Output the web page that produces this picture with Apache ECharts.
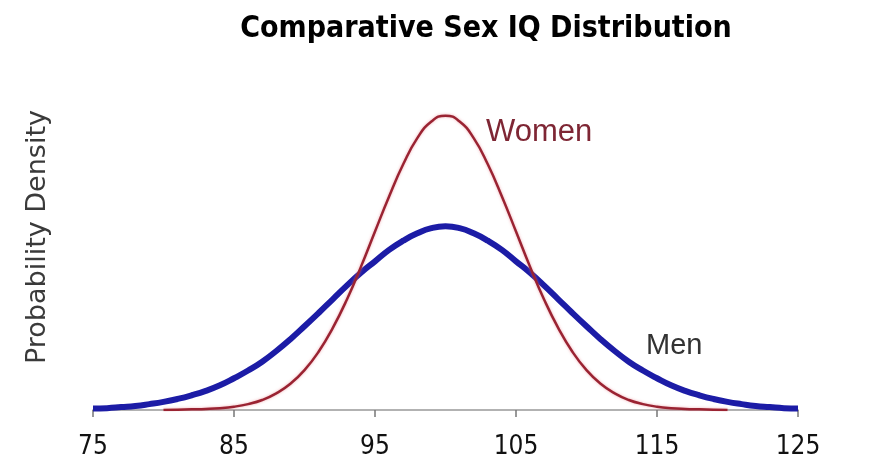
<!DOCTYPE html>
<html>
<head>
<meta charset="utf-8">
<script src="https://cdn.jsdelivr.net/npm/echarts@6/dist/echarts.min.js"></script>
<style>
html, body { margin: 0; padding: 0; background: #fff; }
#main { width: 879px; height: 461px; }
</style>
</head>
<body>
<div id="main"></div>
<script>
// IQ values (x) and probability density
var menIQ = [75, 76, 77, 78, 79, 80, 81, 82, 83, 84, 85, 86, 87, 88, 89, 90, 91, 92, 93, 94, 95, 96, 97, 98, 99, 100,
	101, 102, 103, 104, 105, 106, 107, 108, 109, 110, 111, 112, 113, 114, 115, 116, 117, 118, 119, 120, 121, 122, 123, 124, 125];
var menDensity = [0.0004, 0.0005, 0.0008, 0.0011, 0.0016, 0.0022, 0.0030, 0.0040, 0.0052, 0.0067, 0.0086, 0.0107, 0.0131, 0.0160, 0.0192, 0.0227, 0.0263, 0.0300, 0.0337, 0.0372, 0.0403, 0.0434, 0.0459, 0.0479, 0.0493, 0.0498,
	0.0493, 0.0479, 0.0459, 0.0434, 0.0403, 0.0372, 0.0337, 0.0300, 0.0263, 0.0227, 0.0192, 0.0160, 0.0131, 0.0107, 0.0086, 0.0067, 0.0052, 0.0040, 0.0030, 0.0022, 0.0016, 0.0011, 0.0008, 0.0005, 0.0004];

var womenIQ = [80, 81, 82, 83, 84, 85, 86, 87, 88, 89, 90, 91, 92, 93, 94, 95, 96, 97, 98, 99, 100,
	101, 102, 103, 104, 105, 106, 107, 108, 109, 110, 111, 112, 113, 114, 115, 116, 117, 118, 119, 120];
var womenDensity = [0.0000, 0.0001, 0.0002, 0.0003, 0.0005, 0.0009, 0.0016, 0.0027, 0.0045, 0.0071, 0.0108, 0.0158, 0.0222, 0.0299, 0.0388, 0.0484, 0.0579, 0.0666, 0.0737, 0.0782, 0.0798,
	0.0782, 0.0737, 0.0666, 0.0579, 0.0484, 0.0388, 0.0299, 0.0222, 0.0158, 0.0108, 0.0071, 0.0045, 0.0027, 0.0016, 0.0009, 0.0005, 0.0003, 0.0002, 0.0001, 0.0000];

var xTicks = [75, 85, 95, 105, 115, 125];

function pairs(xs, ys) {
	var res = [];
	for (var i = 0; i < xs.length; i++) {
		res.push([xs[i], ys[i]]);
	}
	return res;
}

var myChart = echarts.init(document.getElementById('main'), null, { renderer: 'canvas' });

var option = {
	backgroundColor: '#fff',
	animation: false,
	title: {
		text: 'Comparative Sex IQ Distribution',
		left: 481,
		top: 9,
		textAlign: 'center',
		textStyle: {
			fontFamily: 'DejaVu Sans Condensed',
			fontSize: 30,
			fontWeight: 'bold',
			color: '#000'
		}
	},
	grid: {
		left: 93,
		right: 81,
		top: 78,
		bottom: 51
	},
	xAxis: {
		type: 'value',
		min: 75,
		max: 125,
		interval: 10,
		axisLine: { show: true, lineStyle: { color: '#999', width: 1.5 } },
		axisTick: { show: true, length: 7, lineStyle: { color: '#777', width: 1.5 } },
		splitLine: { show: false },
		axisLabel: {
			margin: 24,
			fontFamily: 'DejaVu Sans Condensed',
			fontSize: 26,
			color: '#111',
			formatter: function (v) {
				return xTicks.indexOf(v) >= 0 ? String(v) : '';
			}
		}
	},
	yAxis: {
		type: 'value',
		min: 0,
		max: 0.09,
		axisLine: { show: false },
		axisTick: { show: false },
		axisLabel: { show: false },
		splitLine: { show: false }
	},
	series: [
		{
			name: 'Men',
			type: 'line',
			smooth: true,
			showSymbol: false,
			data: pairs(menIQ, menDensity),
			lineStyle: { color: '#1c1ca6', width: 6 },
			z: 2
		},
		{
			name: 'Women',
			type: 'line',
			smooth: true,
			showSymbol: false,
			data: pairs(womenIQ, womenDensity),
			lineStyle: { color: '#9a2332', width: 2.5, shadowColor: 'rgba(230,120,130,0.6)', shadowBlur: 3 },
			z: 3
		}
	],
	graphic: [
		{
			type: 'text',
			x: 38,
			y: 237,
			rotation: Math.PI / 2,
			style: {
				text: 'Probability Density',
				fontFamily: 'DejaVu Sans',
				fontSize: 27,
				fill: '#3a3a3a',
				align: 'center',
				verticalAlign: 'middle'
			}
		},
		{
			type: 'text',
			left: 486,
			top: 117,
			style: {
				text: 'Women',
				fontFamily: 'Liberation Sans',
				fontSize: 31,
				fill: '#7e2634'
			}
		},
		{
			type: 'text',
			left: 646,
			top: 331,
			style: {
				text: 'Men',
				fontFamily: 'Liberation Sans',
				fontSize: 29,
				fill: '#333'
			}
		}
	]
};

myChart.setOption(option);
</script>
</body>
</html>
